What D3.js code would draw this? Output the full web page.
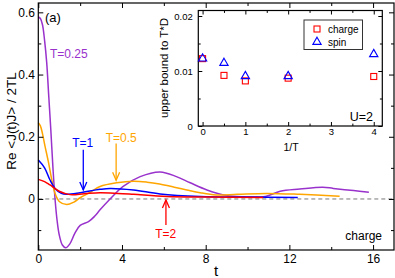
<!DOCTYPE html>
<html>
<head>
<meta charset="utf-8">
<script src="https://cdn.jsdelivr.net/npm/d3@7"></script>
<style>
body{margin:0;background:#fff;}
svg{font-family:"Liberation Sans",Arial,sans-serif;}
</style>
</head>
<body>
<div id="chart"></div>
<script>
// main panel curves: Re <J(t)J> / 2TL
var t025=[0,0.1,0.2,0.3,0.4,0.5,0.6,0.7,0.8,0.9,1.0,1.15,1.31,1.5,1.75,2.0,2.4,2.7,2.95,3.43,4.04,4.87,5.82,6.6,7.26,8.06,9.0,9.8,10.85,11.56,12.5,13.6,14.1,15.07,15.8];
var v025=[0.585,0.58,0.56,0.51,0.44,0.33,0.22,0.1,0.0,-0.07,-0.115,-0.148,-0.157,-0.145,-0.11,-0.085,-0.073,-0.055,-0.035,0.0,0.04,0.072,0.087,0.072,0.052,0.029,0.011,0.007,0.008,0.025,0.032,0.038,0.034,0.027,0.022];
var t05=[0,0.1,0.2,0.32,0.48,0.65,0.8,1.0,1.36,1.7,2.0,2.5,2.95,3.75,4.55,5.2,5.8,6.5,7.1,7.74,8.5,9.5,10.9,12.5,14.4];
var v05=[0.245,0.235,0.21,0.17,0.12,0.06,0.018,-0.008,-0.018,-0.01,0.004,0.022,0.04,0.052,0.057,0.054,0.048,0.038,0.029,0.02,0.013,0.015,0.018,0.015,0.009];
var t1=[0,0.3,0.56,0.8,1.1,1.36,2.0,2.95,3.43,4.55,5.82,7.74,10,12.4];
var v1=[0.125,0.1,0.061,0.034,0.018,0.015,0.02,0.031,0.034,0.029,0.016,0.008,0.006,0.005];
var t2=[0,0.3,0.56,1.0,1.52,2.2,2.95,3.8,4.55,6.14,8,10.75];
var v2=[0.063,0.056,0.045,0.025,0.014,0.017,0.02,0.018,0.015,0.008,0.006,0.005];

// inset: upper bound to T*D vs 1/T
var invT=[0,0.5,1,2,4];
var chargeVals=[0.01225,0.0092,0.0082,0.0087,0.0090];
var spinVals=[0.0124,0.0116,0.0092,0.0092,0.0132];

var xTicks=[0,4,8,12,16];
var yTicks=[0,0.2,0.4,0.6];
var insetXTicks=[0,1,2,3,4];
var insetYTicks=[0,0.01,0.02];

var series=[
  {name:"T=0.25",t:t025,v:v025,color:"#9932cc"},
  {name:"T=0.5",t:t05,v:v05,color:"#ffa500"},
  {name:"T=1",t:t1,v:v1,color:"#0000ff"},
  {name:"T=2",t:t2,v:v2,color:"#ff0000"}
];

var W=395,H=278;
var svg=d3.select("#chart").append("svg").attr("width",W).attr("height",H);

var x=d3.scaleLinear().domain([0,17]).range([38.3,394]);
var y=d3.scaleLinear().domain([-0.164,0.63]).range([250,3]);

// zero line
svg.append("line").attr("x1",x(0)).attr("x2",x(17)).attr("y1",y(0)).attr("y2",y(0))
  .attr("stroke","#777").attr("stroke-width",1).attr("stroke-dasharray","4,3");

var line=d3.line().x(d=>x(d[0])).y(d=>y(d[1])).curve(d3.curveCatmullRom.alpha(0.5));

series.forEach(function(s){
  svg.append("path").datum(s.t.map((t,i)=>[t,s.v[i]]))
    .attr("d",line).attr("fill","none").attr("stroke",s.color).attr("stroke-width",1.5);
});

// frame + ticks (inward, mirrored)
function frame(g,xs,ys,o){
  var x0=xs.range()[0],x1=xs.range()[1],y0=ys.range()[0],y1=ys.range()[1],tl=o.tl;
  function add(axis,tr){
    g.append("g").attr("transform",tr).call(axis).call(a=>a.select(".domain").remove());
  }
  add(d3.axisBottom(xs).tickValues(o.xMaj).tickSize(-tl).tickPadding(o.xPad).tickFormat(o.xFmt),"translate(0,"+y0+")");
  add(d3.axisTop(xs).tickValues(o.xMaj).tickSize(-tl).tickFormat(""),"translate(0,"+y1+")");
  add(d3.axisBottom(xs).tickValues(o.xMin).tickSize(-tl*0.6).tickFormat(""),"translate(0,"+y0+")");
  add(d3.axisTop(xs).tickValues(o.xMin).tickSize(-tl*0.6).tickFormat(""),"translate(0,"+y1+")");
  add(d3.axisLeft(ys).tickValues(o.yMaj).tickSize(-tl).tickPadding(o.yPad).tickFormat(o.yFmt),"translate("+x0+",0)");
  add(d3.axisRight(ys).tickValues(o.yMaj).tickSize(-tl).tickFormat(""),"translate("+x1+",0)");
  add(d3.axisLeft(ys).tickValues(o.yMin).tickSize(-tl*0.6).tickFormat(""),"translate("+x0+",0)");
  add(d3.axisRight(ys).tickValues(o.yMin).tickSize(-tl*0.6).tickFormat(""),"translate("+x1+",0)");
  g.selectAll(".tick text").attr("font-size",o.fs).attr("font-family","Liberation Sans, Arial, sans-serif").attr("fill","#000");
  g.selectAll(".tick line").attr("stroke","#000");
  g.append("rect").attr("x",x0).attr("y",y1).attr("width",x1-x0).attr("height",y0-y1)
    .attr("fill","none").attr("stroke","#000").attr("stroke-width",1.2);
}

var gMain=svg.append("g");
frame(gMain,x,y,{xMaj:xTicks,xMin:[2,6,10,14],yMaj:yTicks,yMin:[-0.1,0.1,0.3,0.5],fs:12,
  xFmt:d3.format("d"),yFmt:d=>d===0?"0":d3.format(".1f")(d),tl:5,xPad:4.5,yPad:3.3});

svg.append("text").attr("x",(38.3+394)/2).attr("y",276).attr("text-anchor","middle")
  .attr("font-size",15).text("t");
svg.append("text").attr("transform","translate(16,121) rotate(-90)").attr("text-anchor","middle")
  .attr("font-size",13.5).text("Re <J(t)J> / 2TL");
svg.append("text").attr("x",45).attr("y",22).attr("font-size",13).text("(a)");
svg.append("text").attr("x",382).attr("y",240).attr("text-anchor","end").attr("font-size",12).text("charge");

// curve labels and arrows
var notes=[
  {txt:"T=0.25",tx:0.56,ty:0.453,anchor:"start",color:"#9932cc"},
  {txt:"T=0.5",tx:3.96,ty:0.184,anchor:"middle",color:"#ffa500",at:3.72,a0:0.178,a1:0.06},
  {txt:"T=1",tx:2.12,ty:0.167,anchor:"middle",color:"#0000ff",at:2.15,a0:0.158,a1:0.029},
  {txt:"T=2",tx:6.09,ty:-0.125,anchor:"middle",color:"#ff0000",at:6.1,a0:-0.084,a1:-0.003}
];
notes.forEach(function(n){
  svg.append("text").attr("x",x(n.tx)).attr("y",y(n.ty)).attr("text-anchor",n.anchor)
    .attr("font-size",12).attr("fill",n.color).text(n.txt);
  if(n.at!==undefined){
    var ax=x(n.at),ya=y(n.a0),yb=y(n.a1),dir=yb>ya?1:-1;
    svg.append("line").attr("x1",ax).attr("x2",ax).attr("y1",ya).attr("y2",yb)
      .attr("stroke",n.color).attr("stroke-width",1.3);
    svg.append("path").attr("d","M"+(ax-3.5)+","+(yb-dir*8)+"L"+ax+","+yb+"L"+(ax+3.5)+","+(yb-dir*8))
      .attr("fill","none").attr("stroke",n.color).attr("stroke-width",1.3);
  }
});

// inset
var xi=d3.scaleLinear().domain([-0.1,4.2]).range([198.3,382.3]);
var yi=d3.scaleLinear().domain([0,0.021]).range([126,10.5]);
svg.append("rect").attr("x",198.3).attr("y",10.5).attr("width",184).attr("height",115.5).attr("fill","#fff");
var gIn=svg.append("g");
frame(gIn,xi,yi,{xMaj:insetXTicks,xMin:[0.5,1.5,2.5,3.5],yMaj:insetYTicks,yMin:[0.005,0.015],fs:9.5,
  xFmt:d3.format("d"),yFmt:d=>d===0?"0":d3.format(".2f")(d),tl:4,xPad:2.5,yPad:5.6});

svg.append("text").attr("transform","translate(168,68) rotate(-90)").attr("text-anchor","middle")
  .attr("font-size",11.5).text("upper bound to T*D");
svg.append("text").attr("x",291).attr("y",151).attr("text-anchor","middle")
  .attr("font-size",10.5).text("1/T");
svg.append("text").attr("x",373).attr("y",121).attr("text-anchor","end")
  .attr("font-size",12.5).text("U=2");

var tri=d3.symbol().type(d3.symbolTriangle).size(30);
gIn.selectAll(".sq").data(invT).enter().append("rect")
  .attr("x",(d)=>xi(d)-3).attr("y",(d,i)=>yi(chargeVals[i])-3).attr("width",6).attr("height",6)
  .attr("fill","none").attr("stroke","#ff0000").attr("stroke-width",1.1);
gIn.selectAll(".tr").data(invT).enter().append("path")
  .attr("d",tri).attr("transform",(d,i)=>"translate("+xi(d)+","+(yi(spinVals[i])+0.8)+")")
  .attr("fill","none").attr("stroke","#0000ff").attr("stroke-width",1.1);

// legend
var lg=svg.append("g");
lg.append("rect").attr("x",304).attr("y",20).attr("width",58.5).attr("height",29.5)
  .attr("fill","#fff").attr("stroke","#333").attr("stroke-width",1);
lg.append("rect").attr("x",314).attr("y",26).attr("width",6).attr("height",6)
  .attr("fill","none").attr("stroke","#ff0000").attr("stroke-width",1.1);
lg.append("path").attr("d",tri).attr("transform","translate(317,42)")
  .attr("fill","none").attr("stroke","#0000ff").attr("stroke-width",1.1);
lg.append("text").attr("x",328).attr("y",32.5).attr("font-size",10).text("charge");
lg.append("text").attr("x",328).attr("y",45.5).attr("font-size",10).text("spin");
</script>
</body>
</html>
